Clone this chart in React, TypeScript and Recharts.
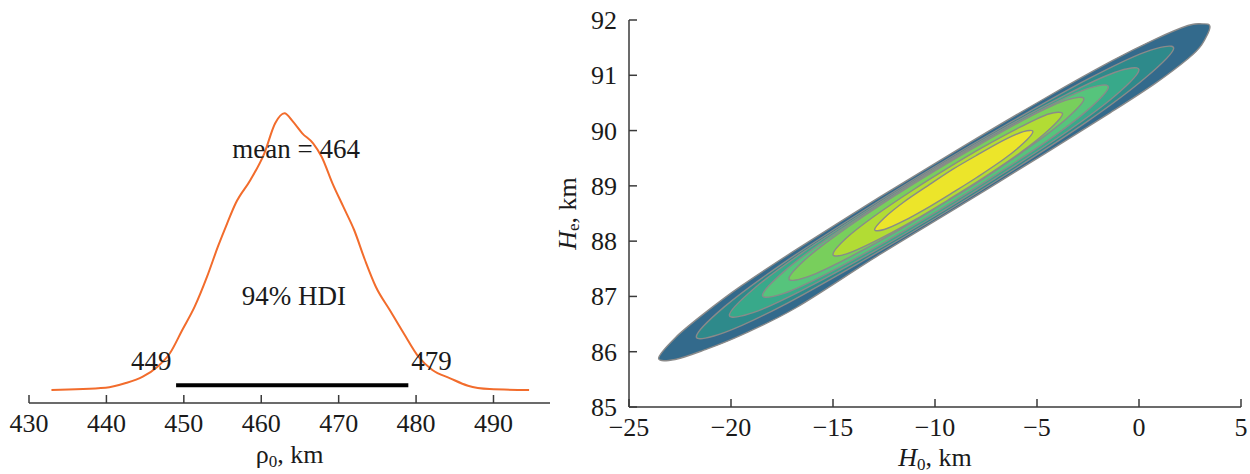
import React from "react";
import { LineChart, Line, ScatterChart, Scatter, XAxis, YAxis, ReferenceDot } from "recharts";

const FONT = '"Liberation Serif", "Times New Roman", serif';
const AXIS = "#3a3a3a";
const TXT = { fontFamily: FONT, fill: "#1a1a1a" };

// left panel: posterior of rho0 (km) and its density
const rhoValues = [
  432.9, 439.9, 442.4, 444.7, 446.6, 448.2, 449.8, 451.4, 453.0, 454.4, 455.6, 456.7, 458.6,
  460.4, 461.8, 463.0, 464.1, 465.3, 466.7, 467.8, 469.2, 470.6, 472.0, 473.4, 474.8, 476.6,
  478.4, 480.3, 482.1, 484.4, 486.7, 489.5, 494.6,
];
const rhoDensity = [
  0, 0.00023, 0.00067, 0.00133, 0.00233, 0.00367, 0.006, 0.00833, 0.01133, 0.01433, 0.01667,
  0.01867, 0.021, 0.02367, 0.02667, 0.02767, 0.02683, 0.02567, 0.02467, 0.02333, 0.02067,
  0.01833, 0.016, 0.013, 0.01033, 0.008, 0.00567, 0.00333, 0.002, 0.00117, 0.00043, 0.0001, 0,
];
const rhoMean = 464;
const hdiLow = 449;
const hdiHigh = 479;
const rhoTicks = [430, 440, 450, 460, 470, 480, 490];

// right panel: joint density of H0 and He, contour polygons [H0, He]
const h0Ticks = [-25, -20, -15, -10, -5, 0, 5];
const heTicks = [85, 86, 87, 88, 89, 90, 91, 92];

const level1: [number, number][] = [
  [-23.55, 85.88], [-22.74, 86.25], [-21.39, 86.67], [-19.5, 87.19], [-16.79, 87.85],
  [-12.74, 88.79], [-8.68, 89.7], [-4.63, 90.58], [-1.38, 91.25], [0.78, 91.65], [2.4, 91.9],
  [3.07, 91.93], [3.48, 91.88], [3.07, 91.55], [2.4, 91.3], [0.78, 90.85], [-1.38, 90.33],
  [-4.63, 89.58], [-8.68, 88.66], [-12.74, 87.75], [-16.79, 86.8], [-19.5, 86.3],
  [-21.39, 86.02], [-22.74, 85.86],
];
const level2: [number, number][] = [
  [-21.7, 86.27], [-20.3, 86.82], [-17.49, 87.59], [-13.51, 88.55], [-10.0, 89.35],
  [-6.49, 90.11], [-2.51, 90.93], [0.3, 91.42], [1.7, 91.49], [0.3, 90.95], [-2.51, 90.17],
  [-6.49, 89.21], [-10.0, 88.41], [-13.51, 87.65], [-17.49, 86.83], [-20.3, 86.35],
];
const level3: [number, number][] = [
  [-20.08, 86.66], [-18.88, 87.14], [-16.47, 87.8], [-13.05, 88.62], [-10.04, 89.31],
  [-7.03, 89.96], [-3.61, 90.64], [-1.2, 91.05], [0.0, 91.1], [-1.2, 90.62], [-3.61, 89.96],
  [-7.03, 89.14], [-10.04, 88.45], [-13.05, 87.8], [-16.47, 87.12], [-18.88, 86.71],
];
const level4: [number, number][] = [
  [-18.46, 87.02], [-17.44, 87.44], [-15.41, 88.01], [-12.52, 88.71], [-9.98, 89.3],
  [-7.44, 89.84], [-4.55, 90.42], [-2.52, 90.76], [-1.5, 90.79], [-2.52, 90.37], [-4.55, 89.8],
  [-7.44, 89.1], [-9.98, 88.52], [-12.52, 87.97], [-15.41, 87.39], [-17.44, 87.05],
];
const level5: [number, number][] = [
  [-17.16, 87.32], [-16.29, 87.69], [-14.56, 88.18], [-12.1, 88.79], [-9.93, 89.29],
  [-7.76, 89.76], [-5.3, 90.26], [-3.57, 90.55], [-2.7, 90.57], [-3.57, 90.21], [-5.3, 89.72],
  [-7.76, 89.1], [-9.93, 88.61], [-12.1, 88.13], [-14.56, 87.64], [-16.29, 87.35],
];
const level6: [number, number][] = [
  [-15.0, 87.76], [-14.33, 88.06], [-12.98, 88.45], [-11.06, 88.93], [-9.38, 89.32],
  [-7.69, 89.69], [-5.78, 90.07], [-4.43, 90.3], [-3.75, 90.3], [-4.43, 90.01], [-5.78, 89.61],
  [-7.69, 89.13], [-9.38, 88.74], [-11.06, 88.37], [-12.98, 87.99], [-14.33, 87.77],
];
const level7: [number, number][] = [
  [-12.96, 88.21], [-12.49, 88.42], [-11.56, 88.7], [-10.24, 89.03], [-9.08, 89.31],
  [-7.92, 89.56], [-6.6, 89.83], [-5.67, 89.98], [-5.2, 89.98], [-5.67, 89.77], [-6.6, 89.49],
  [-7.92, 89.16], [-9.08, 88.89], [-10.24, 88.63], [-11.56, 88.36], [-12.49, 88.21],
];
const levels = [level1, level2, level3, level4, level5, level6, level7];
const levelColors = ["#336a8c", "#2e8a8b", "#38a98a", "#56c47c", "#78cf5c", "#b2dc34", "#ece52a"];

const curveData = rhoValues.map((x, i) => ({ x, d: rhoDensity[i] }));
const hdiData = [
  { x: hdiLow, d: 0.00047 },
  { x: hdiHigh, d: 0.00047 },
];

// smooth closed outline through the contour vertices (Catmull-Rom)
function closedPath(pts: { x: number; y: number }[]) {
  const n = pts.length;
  let d = `M${pts[0].x},${pts[0].y}`;
  for (let i = 0; i < n; i++) {
    const p0 = pts[(i - 1 + n) % n];
    const p1 = pts[i];
    const p2 = pts[(i + 1) % n];
    const p3 = pts[(i + 2) % n];
    const c1x = p1.x + (p2.x - p0.x) / 6;
    const c1y = p1.y + (p2.y - p0.y) / 6;
    const c2x = p2.x - (p3.x - p1.x) / 6;
    const c2y = p2.y - (p3.y - p1.y) / 6;
    d += ` C${c1x},${c1y} ${c2x},${c2y} ${p2.x},${p2.y}`;
  }
  return d + " Z";
}

const fmt = (v: number) => (v < 0 ? `\u2212${Math.abs(v)}` : `${v}`);

function BottomTick(props: any) {
  const { x, y, payload } = props;
  return (
    <g>
      <line x1={x} x2={x} y1={y} y2={y - 8} stroke={AXIS} strokeWidth={1.5} />
      <text x={x} y={y + 29} textAnchor="middle" fontSize={26} style={TXT}>
        {fmt(payload.value)}
      </text>
    </g>
  );
}

function LeftTick(props: any) {
  const { x, y, payload } = props;
  return (
    <g>
      <line x1={x} x2={x + 8} y1={y} y2={y} stroke={AXIS} strokeWidth={1.5} />
      <text x={x - 12} y={y + 9} textAnchor="end" fontSize={26} style={TXT}>
        {fmt(payload.value)}
      </text>
    </g>
  );
}

const note = (text: string) => (p: any) => (
  <text x={p.cx} y={p.cy} textAnchor="middle" fontSize={27} style={TXT}>
    {text}
  </text>
);

export default function App() {
  return (
    <div style={{ position: "absolute", left: 0, top: 0, width: 1250, height: 474, background: "#fff" }}>
      <div style={{ position: "absolute", left: 0, top: 0 }}>
        <LineChart width={560} height={474} margin={{ top: 100, right: 10, bottom: 31, left: 29 }}>
          <XAxis
            type="number"
            dataKey="x"
            domain={[430, 497.3]}
            ticks={rhoTicks}
            allowDataOverflow
            height={40}
            tickSize={0}
            tickMargin={0}
            tickLine={false}
            tick={<BottomTick />}
            axisLine={{ stroke: AXIS, strokeWidth: 1.5 }}
            label={{
              content: (p: any) => {
                const vb = p.viewBox;
                return (
                  <text x={vb.x + vb.width / 2} y={vb.y + 60} textAnchor="middle" fontSize={26} style={TXT}>
                    ρ<tspan fontSize={17} dy={4}>0</tspan>
                    <tspan dy={-4}>, km</tspan>
                  </text>
                );
              },
            }}
          />
          <YAxis type="number" hide domain={[-0.0013, 0.029]} allowDataOverflow />
          <Line data={curveData} dataKey="d" type="monotone" stroke="#f26c2c" strokeWidth={2} dot={false} isAnimationActive={false} />
          <Line data={hdiData} dataKey="d" type="linear" stroke="#000" strokeWidth={4} dot={false} isAnimationActive={false} />
          <ReferenceDot x={464.5} y={0.0232} r={1} ifOverflow="visible" shape={note(`mean = ${rhoMean}`)} />
          <ReferenceDot x={464.2} y={0.0085} r={1} ifOverflow="visible" shape={note("94% HDI")} />
          <ReferenceDot x={445.8} y={0.002} r={1} ifOverflow="visible" shape={note(`${hdiLow}`)} />
          <ReferenceDot x={482.0} y={0.002} r={1} ifOverflow="visible" shape={note(`${hdiHigh}`)} />
        </LineChart>
      </div>
      <div style={{ position: "absolute", left: 540, top: 0 }}>
        <ScatterChart width={710} height={474} margin={{ top: 20, right: 9, bottom: 27, left: 39 }}>
          <XAxis
            type="number"
            dataKey="x"
            domain={[-25, 5]}
            ticks={h0Ticks}
            allowDataOverflow
            height={40}
            tickSize={0}
            tickMargin={0}
            tickLine={false}
            tick={<BottomTick />}
            axisLine={{ stroke: AXIS, strokeWidth: 1.5 }}
            label={{
              content: (p: any) => {
                const vb = p.viewBox;
                return (
                  <text x={vb.x + vb.width / 2} y={vb.y + 59} textAnchor="middle" fontSize={26} style={TXT}>
                    <tspan fontStyle="italic">H</tspan>
                    <tspan fontSize={17} dy={4}>0</tspan>
                    <tspan dy={-4}>, km</tspan>
                  </text>
                );
              },
            }}
          />
          <YAxis
            type="number"
            dataKey="y"
            domain={[85, 92]}
            ticks={heTicks}
            allowDataOverflow
            width={50}
            tickSize={0}
            tickMargin={0}
            tickLine={false}
            tick={<LeftTick />}
            axisLine={{ stroke: AXIS, strokeWidth: 1.5 }}
            label={{
              content: (p: any) => {
                const vb = p.viewBox;
                const cx = vb.x - 12;
                const cy = vb.y + vb.height / 2;
                return (
                  <text x={cx} y={cy} transform={`rotate(-90, ${cx}, ${cy})`} textAnchor="middle" dominantBaseline="central" fontSize={26} style={TXT}>
                    <tspan fontStyle="italic">H</tspan>
                    <tspan fontSize={17} dy={6}>e</tspan>
                    <tspan dy={-6}>, km</tspan>
                  </text>
                );
              },
            }}
          />
          {levels.map((lv, i) => (
            <Scatter
              key={i}
              data={lv.map(([x, y]) => ({ x, y }))}
              isAnimationActive={false}
              shape={() => <g />}
              line={(p: any) => (
                <path d={closedPath(p.points)} fill={levelColors[i]} stroke="#8a8a8a" strokeWidth={1.4} />
              )}
            />
          ))}
        </ScatterChart>
      </div>
    </div>
  );
}
